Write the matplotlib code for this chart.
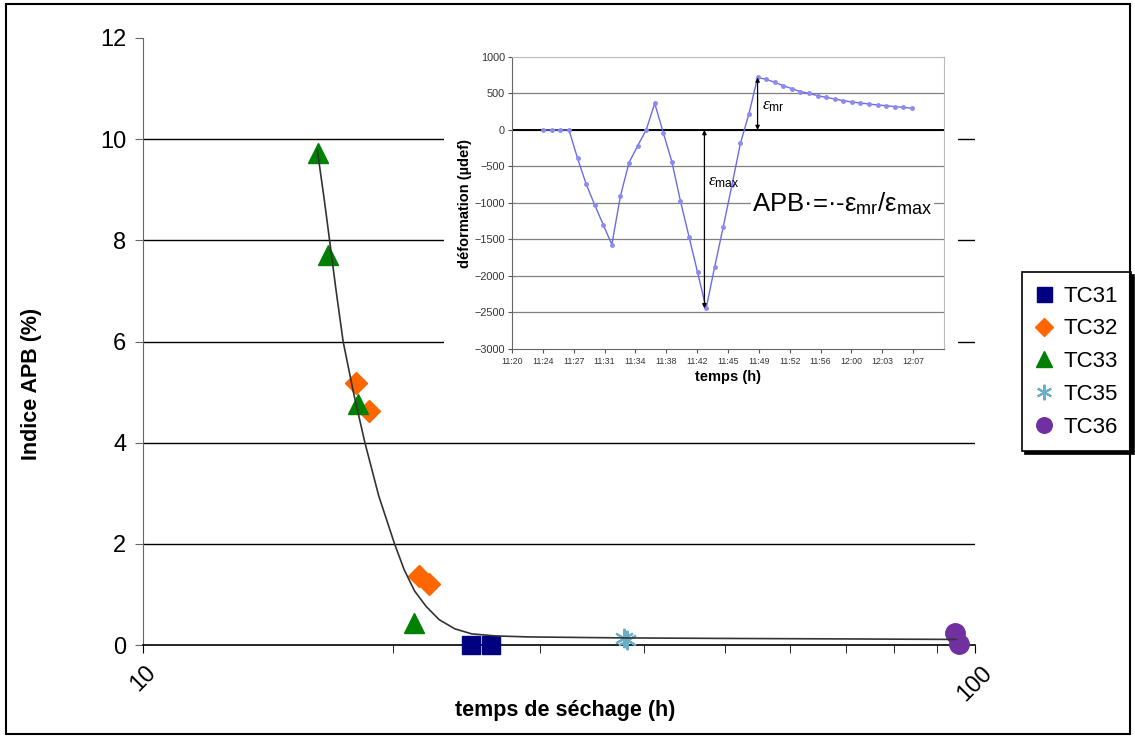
import numpy as np
import pandas as pd
import matplotlib
matplotlib.use('Agg')
import matplotlib.pyplot as plt
from matplotlib.patches import Rectangle

plt.rcParams['font.family'] = ['Liberation Sans', 'DejaVu Sans']
plt.rcParams['mathtext.fontset'] = 'custom'
plt.rcParams['mathtext.rm'] = 'Liberation Sans'
plt.rcParams['mathtext.it'] = 'Liberation Serif:italic'

# ---------------------------------------------------------
# Main chart data: APB index vs drying time (log x)
# ---------------------------------------------------------
tc31_x = [24.77, 26.17]
tc31_y = [0.0, 0.0]
tc32_x = [18.03, 18.67, 21.45, 22.08]
tc32_y = [5.18, 4.62, 1.37, 1.20]
tc33_x = [16.21, 16.68, 18.13, 21.15]
tc33_y = [9.73, 7.71, 4.76, 0.43]
tc35_x = [37.9, 38.2]
tc35_y = [0.14, 0.10]
tc36_x = [94.5, 95.8]
tc36_y = [0.24, 0.02]

# trend curve
trend_x = [16.2, 16.5, 16.76, 17.05, 17.4, 17.9, 18.48, 19.2, 20.06, 20.6, 21.2,
           21.9, 22.7, 23.7, 24.84, 26.5, 29, 33, 38, 50, 70, 95]
trend_y = [9.78, 8.85, 8.0, 7.05, 6.0, 5.0, 4.0, 2.95, 2.0, 1.49, 1.07,
           0.76, 0.50, 0.32, 0.22, 0.18, 0.16, 0.15, 0.14, 0.13, 0.12, 0.11]

main_yticks = [0, 2, 4, 6, 8, 10, 12]

# ---------------------------------------------------------
# Inset data: strain vs time
# ---------------------------------------------------------
inset_times = ['11:23:39', '11:24:39', '11:25:39', '11:26:39', '11:27:39', '11:28:39',
               '11:29:39', '11:30:39', '11:31:39', '11:32:39', '11:33:39', '11:34:39',
               '11:35:39', '11:36:39', '11:37:39', '11:38:39', '11:39:39', '11:40:39',
               '11:41:39', '11:42:39', '11:43:39', '11:44:39', '11:45:39', '11:46:39',
               '11:47:39', '11:48:39', '11:49:39', '11:50:39', '11:51:39', '11:52:39',
               '11:53:39', '11:54:39', '11:55:39', '11:56:39', '11:57:39', '11:58:39',
               '11:59:39', '12:00:39', '12:01:39', '12:02:39', '12:03:39', '12:04:39',
               '12:05:39', '12:06:39']
inset_strain = [0, 0, 0, 0, -388, -740, -1027, -1300, -1570, -904, -448, -219,
                0, 365, -37, -434, -973, -1461, -1950, -2443, -1872, -1324, -760, -182,
                225, 720, 694, 653, 607, 566, 525, 502, 470, 447, 425, 402,
                384, 370, 356, 342, 333, 320, 311, 297]
inset_xlabels = ['11:20', '11:24', '11:27', '11:31', '11:34', '11:38', '11:42',
                 '11:45', '11:49', '11:52', '11:56', '12:00', '12:03', '12:07']
inset_yticks = [-3000, -2500, -2000, -1500, -1000, -500, 0, 500, 1000]

t0 = pd.Timestamp('1900-01-01 11:20:00')
t_min = (pd.to_datetime(inset_times, format='%H:%M:%S') - t0).total_seconds() / 60.0
strain = np.array(inset_strain)

W, H = 1135, 738
fig = plt.figure(figsize=(W / 100, H / 100), dpi=100)

# figure frame
fig.patches.append(Rectangle((6 / W, 4 / H), 1124 / W, 730 / H, transform=fig.transFigure,
                             fill=False, edgecolor='black', linewidth=1.5))

# ---------------------------------------------------------
# Main axes
# ---------------------------------------------------------
ax = fig.add_axes([143 / W, 93 / H, 832 / W, 607 / H])
ax.set_xscale('log')
ax.set_xlim(10, 100)
ax.set_ylim(0, 12)
ax.hlines(main_yticks[1:-1], 10, 100, color='black', lw=1, zorder=1)

ms = 14
ax.plot(tc31_x, tc31_y, ls='none', marker='s', ms=13.5, color='#000080', label='TC31',
        clip_on=False, zorder=3)
ax.plot(tc32_x, tc32_y, ls='none', marker='D', ms=11, color='#FF6600', label='TC32',
        clip_on=False, zorder=3)
ax.plot(tc33_x, tc33_y, ls='none', marker='^', ms=ms, color='#008000', label='TC33',
        clip_on=False, zorder=3)
ax.plot(tc35_x, tc35_y, ls='none', marker=(6, 2, 0), ms=ms, mew=1.5, color='#6AAFC6',
        label='TC35', clip_on=False, zorder=3)
ax.plot(tc36_x, tc36_y, ls='none', marker='o', ms=ms, color='#7030A0', label='TC36',
        clip_on=False, zorder=3)
ax.plot(trend_x, trend_y, color='#333333', lw=1.2, zorder=4)

for s in ['top', 'right']:
    ax.spines[s].set_visible(False)
ax.spines['left'].set_color('#666666')
ax.spines['bottom'].set_color('black')
ax.spines['bottom'].set_linewidth(1.2)

ax.set_yticks(main_yticks)
ax.tick_params(axis='y', labelsize=17, length=6, color='#666666', pad=6)
ax.set_xticks([10, 100])
ax.set_xticklabels(['10', '100'], rotation=45, fontsize=17)
ax.tick_params(axis='x', which='major', length=6, pad=6)
ax.tick_params(axis='x', which='minor', length=6)
ax.xaxis.set_minor_formatter(plt.NullFormatter())

ax.set_ylabel('Indice APB (%)', fontsize=15.5, fontweight='bold')
ax.yaxis.set_label_coords(-0.121, 0.43)
ax.set_xlabel('temps de séchage (h)', fontsize=15.5, fontweight='bold')
ax.xaxis.set_label_coords(0.507, -0.09)

leg = ax.legend(loc='center left', bbox_to_anchor=(1022 / W, 0.51),
                bbox_transform=fig.transFigure, fontsize=16, frameon=True, fancybox=False,
                edgecolor='black', framealpha=1, shadow={'color': 'black', 'alpha': 1},
                handlelength=0.8, handletextpad=0.45, labelspacing=0.53, borderpad=0.6,
                borderaxespad=0, markerscale=0.8)
leg.get_frame().set_linewidth(1.2)

# ---------------------------------------------------------
# Inset chart
# ---------------------------------------------------------
bg = fig.add_axes([444 / W, 340 / H, 514 / W, 356 / H])
bg.set_facecolor('white')
bg.set_xticks([])
bg.set_yticks([])
for s in bg.spines.values():
    s.set_visible(False)

ins = fig.add_axes([512 / W, 389 / H, 432 / W, 292 / H])
ins.set_xlim(0, 50.4)
ins.set_ylim(-3000, 1000)
ins.set_yticks(inset_yticks)
ins.set_xticks(np.arange(len(inset_xlabels)) * 3.6)
ins.set_xticklabels(inset_xlabels)
ins.tick_params(length=3, width=0.8, color='#555555', labelcolor='#333333', pad=2)
ins.tick_params(axis='y', labelsize=7.8)
ins.tick_params(axis='x', labelsize=6.3, pad=3)
for y in inset_yticks[1:-1]:
    ins.axhline(y, color='#808080', lw=0.9, zorder=1)
ins.axhline(0, color='black', lw=1.4, zorder=1)
ins.spines['left'].set_color('#666666')
ins.spines['bottom'].set_color('#666666')
ins.spines['top'].set_color('#BBBBBB')
ins.spines['right'].set_color('#BBBBBB')

ins.plot(t_min, strain, color='#6B6BE8', lw=1, marker='o', ms=2.5,
         mfc='#8C8CF0', mec='#8C8CF0', zorder=3)

ins.set_ylabel('déformation (µdef)', fontsize=10.5, fontweight='bold', labelpad=2)
ins.set_xlabel('temps (h)', fontsize=10.5, fontweight='bold', labelpad=3)

i_min = int(np.argmin(strain))
i_max = int(np.argmax(strain))
ins.annotate('', xy=(t_min[i_min] - 0.2, strain[i_min]), xytext=(t_min[i_min] - 0.2, 0),
             arrowprops=dict(arrowstyle='<|-|>', color='black', lw=0.9,
                             mutation_scale=6, shrinkA=0, shrinkB=0), zorder=4)
ins.annotate('', xy=(t_min[i_max], strain[i_max]), xytext=(t_min[i_max], 0),
             arrowprops=dict(arrowstyle='<|-|>', color='black', lw=0.9,
                             mutation_scale=6, shrinkA=0, shrinkB=0), zorder=4)
ins.text(t_min[i_min] + 0.2, -725, r'$\varepsilon_{\mathrm{max}}$', fontsize=12.5,
         va='center', ha='left')
ins.text(t_min[i_max] + 0.5, 320, r'$\varepsilon_{\mathrm{mr}}$', fontsize=12.5,
         va='center', ha='left')
ins.text(28.0, -1010, 'APB·=·-ε$_{\\mathrm{mr}}$/ε$_{\\mathrm{max}}$', fontsize=18.5,
         va='center', ha='left', zorder=5,
         bbox=dict(facecolor='white', edgecolor='none', pad=1))

plt.savefig('out.png', dpi=100)
